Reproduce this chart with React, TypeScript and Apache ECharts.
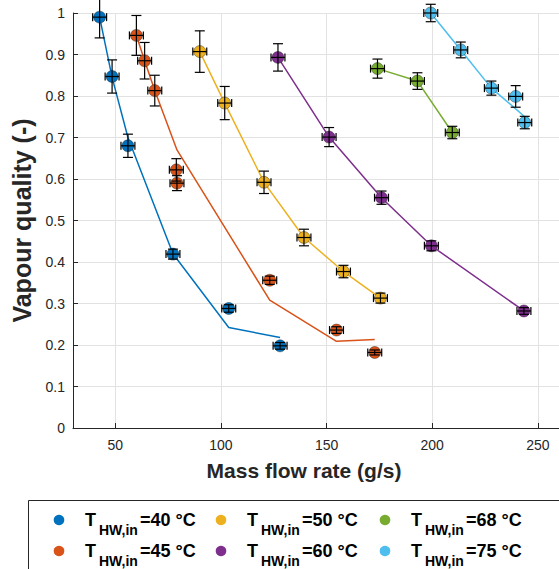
import React, { useEffect, useRef } from "react";
import * as echarts from "echarts";

// ---- data ----
const temps = [40, 45, 50, 60, 68, 75];
const colors = ["#0072BD", "#D95319", "#EDB120", "#7E2F8E", "#77AC30", "#4DBEEE"];
const xTicks = [50, 100, 150, 200, 250];

const flow40 = [42.6, 48.5, 56.0, 77.3, 103.7, 128.0];
const quality40 = [0.99, 0.847, 0.68, 0.419, 0.288, 0.198];
const qualityErr40 = [0.05, 0.04, 0.028, 0.012, 0.009, 0.008];
const flowErr40 = [3.3, 3.3, 3.3, 3.3, 3.3, 3.3];
const model40 = [0.99, 0.845, 0.7, 0.42, 0.242, 0.218];

const flow45 = [60.0, 63.9, 68.7, 78.9, 79.2, 123.1, 154.7, 172.8];
const quality45 = [0.946, 0.885, 0.813, 0.622, 0.59, 0.356, 0.236, 0.182];
const qualityErr45 = [0.048, 0.044, 0.037, 0.027, 0.018, 0.01, 0.008, 0.006];
const flowErr45 = [3.3, 3.3, 3.3, 3.3, 3.3, 3.3, 3.3, 3.3];
const model45 = [0.946, 0.885, 0.813, 0.674, 0.67, 0.308, 0.209, 0.213];

const flow50 = [90.0, 101.8, 120.4, 139.3, 158.0, 175.5];
const quality50 = [0.907, 0.783, 0.592, 0.459, 0.377, 0.313];
const qualityErr50 = [0.05, 0.04, 0.027, 0.02, 0.015, 0.012];
const flowErr50 = [3.3, 3.3, 3.3, 3.3, 3.3, 3.3];
const model50 = [0.907, 0.783, 0.592, 0.459, 0.377, 0.313];

const flow60 = [127.0, 151.2, 176.0, 199.6, 243.4];
const quality60 = [0.893, 0.701, 0.555, 0.439, 0.282];
const qualityErr60 = [0.033, 0.023, 0.016, 0.012, 0.008];
const flowErr60 = [3.3, 3.3, 3.3, 3.3, 3.3];
const model60 = [0.893, 0.701, 0.555, 0.439, 0.282];

const flow68 = [174.1, 193.0, 209.5];
const quality68 = [0.866, 0.836, 0.712];
const qualityErr68 = [0.023, 0.02, 0.015];
const flowErr68 = [3.3, 3.3, 3.3];
const model68 = [0.866, 0.836, 0.712];

const flow75 = [199.3, 213.5, 228.0, 239.5, 243.8];
const quality75 = [1.0, 0.911, 0.819, 0.799, 0.736];
const qualityErr75 = [0.021, 0.019, 0.017, 0.026, 0.015];
const flowErr75 = [3.3, 3.3, 3.3, 3.3, 3.3];
const model75 = [1.0, 0.911, 0.819, 0.769, 0.75];

const groups = [
  { flow: flow40, q: quality40, qe: qualityErr40, fe: flowErr40, model: model40 },
  { flow: flow45, q: quality45, qe: qualityErr45, fe: flowErr45, model: model45 },
  { flow: flow50, q: quality50, qe: qualityErr50, fe: flowErr50, model: model50 },
  { flow: flow60, q: quality60, qe: qualityErr60, fe: flowErr60, model: model60 },
  { flow: flow68, q: quality68, qe: qualityErr68, fe: flowErr68, model: model68 },
  { flow: flow75, q: quality75, qe: qualityErr75, fe: flowErr75, model: model75 },
];

const FONT = "Liberation Sans";
const TXT = "#262626";

function errRender(params: any, api: any) {
  const x = api.value(0);
  const y = api.value(1);
  const ye = api.value(2);
  const xe = api.value(3);
  const c = api.coord([x, y]);
  const top = api.coord([x, y + ye]);
  const bot = api.coord([x, y - ye]);
  const l = api.coord([x - xe, y]);
  const r = api.coord([x + xe, y]);
  const st = { stroke: "#000", lineWidth: 1.2 };
  const ln = (x1: number, y1: number, x2: number, y2: number) => ({
    type: "line",
    shape: { x1, y1, x2, y2 },
    style: st,
  });
  const cw = 5;
  const ch = 4;
  return {
    type: "group",
    children: [
      ln(c[0], top[1], c[0], bot[1]),
      ln(c[0] - cw, top[1], c[0] + cw, top[1]),
      ln(c[0] - cw, bot[1], c[0] + cw, bot[1]),
      ln(l[0], c[1], r[0], c[1]),
      ln(l[0], c[1] - ch, l[0], c[1] + ch),
      ln(r[0], c[1] - ch, r[0], c[1] + ch),
    ],
  };
}

function buildOption() {
  const series: any[] = [];
  groups.forEach((g, i) => {
    series.push({
      type: "line",
      name: "model " + temps[i],
      data: g.flow.map((f, k) => [f, g.model[k]]),
      symbol: "none",
      lineStyle: { color: colors[i], width: 1.5 },
      z: 1,
      silent: true,
    });
  });
  groups.forEach((g, i) => {
    series.push({
      type: "scatter",
      name: "T_HW,in=" + temps[i] + " °C",
      data: g.flow.map((f, k) => [f, g.q[k]]),
      symbol: "circle",
      symbolSize: 12,
      itemStyle: { color: colors[i], borderColor: "rgba(0,0,0,0.35)", borderWidth: 1, opacity: 1 },
      z: 2,
    });
  });
  groups.forEach((g, i) => {
    series.push({
      type: "custom",
      name: "err " + temps[i],
      data: g.flow.map((f, k) => [f, g.q[k], g.qe[k], g.fe[k]]),
      renderItem: errRender,
      encode: { x: 0, y: 1 },
      z: 3,
      silent: true,
      clip: false,
    });
  });

  // legend drawn as graphic (3 columns x 2 rows)
  const colX = [59, 221, 385];
  const rowY = [520, 551];
  const legendChildren: any[] = [
    {
      type: "rect",
      shape: { x: 28.5, y: 500.5, width: 600, height: 120 },
      style: { fill: "#fff", stroke: TXT, lineWidth: 1 },
    },
  ];
  temps.forEach((t, i) => {
    const cx = colX[Math.floor(i / 2)];
    const cy = rowY[i % 2];
    const tx = cx + 26;
    legendChildren.push({
      type: "circle",
      shape: { cx, cy, r: 5.3 },
      style: { fill: colors[i] },
    });
    legendChildren.push({
      type: "text",
      x: tx,
      y: cy,
      style: { text: "T", fontSize: 18, fontWeight: "bold", fontFamily: FONT, fill: "#000", verticalAlign: "middle", align: "left" },
    });
    legendChildren.push({
      type: "text",
      x: tx + 14,
      y: cy + 10,
      style: { text: "HW,in", fontSize: 14, fontWeight: "bold", fontFamily: FONT, fill: "#000", verticalAlign: "middle", align: "left" },
    });
    legendChildren.push({
      type: "text",
      x: tx + 55,
      y: cy,
      style: { text: "=" + t + " °C", fontSize: 18, fontWeight: "bold", fontFamily: FONT, fill: "#000", verticalAlign: "middle", align: "left" },
    });
  });

  return {
    animation: false,
    backgroundColor: "#fff",
    textStyle: { fontFamily: FONT },
    grid: { left: 73, top: 13, right: 0, bottom: 141, containLabel: false },
    xAxis: {
      type: "value",
      min: 30,
      max: 260,
      name: "Mass flow rate (g/s)",
      nameLocation: "middle",
      nameGap: 32,
      nameTextStyle: { fontSize: 21, fontWeight: "bold", color: TXT, fontFamily: FONT, padding: [0, 24, 0, 0] },
      axisLine: { show: true, lineStyle: { color: TXT, width: 1 } },
      axisTick: { show: true, inside: true, length: 5, customValues: xTicks, lineStyle: { color: TXT } },
      axisLabel: { customValues: xTicks, fontSize: 14, color: TXT, margin: 10, fontFamily: FONT },
      splitLine: { show: true, lineStyle: { color: "#e2e2e2", width: 1 } },
    },
    yAxis: {
      type: "value",
      min: 0,
      max: 1,
      interval: 0.1,
      name: "Vapour quality (-)",
      nameLocation: "middle",
      nameGap: 35,
      nameTextStyle: { fontSize: 25, fontWeight: "bold", color: TXT, fontFamily: FONT },
      axisLine: { show: true, lineStyle: { color: TXT, width: 1 } },
      axisTick: { show: true, inside: true, length: 5, lineStyle: { color: TXT } },
      axisLabel: { fontSize: 14, color: TXT, margin: 8, fontFamily: FONT },
      splitLine: { show: true, lineStyle: { color: "#e2e2e2", width: 1 } },
    },
    graphic: { elements: [{ type: "group", children: legendChildren }] },
    series,
  };
}

export default function App() {
  const ref = useRef<HTMLDivElement>(null);
  useEffect(() => {
    document.body.style.margin = "0";
    if (!ref.current) return;
    const chart = echarts.init(ref.current, null, { renderer: "svg" });
    chart.setOption(buildOption() as any);
    return () => chart.dispose();
  }, []);
  return <div ref={ref} style={{ width: 559, height: 569 }} />;
}
